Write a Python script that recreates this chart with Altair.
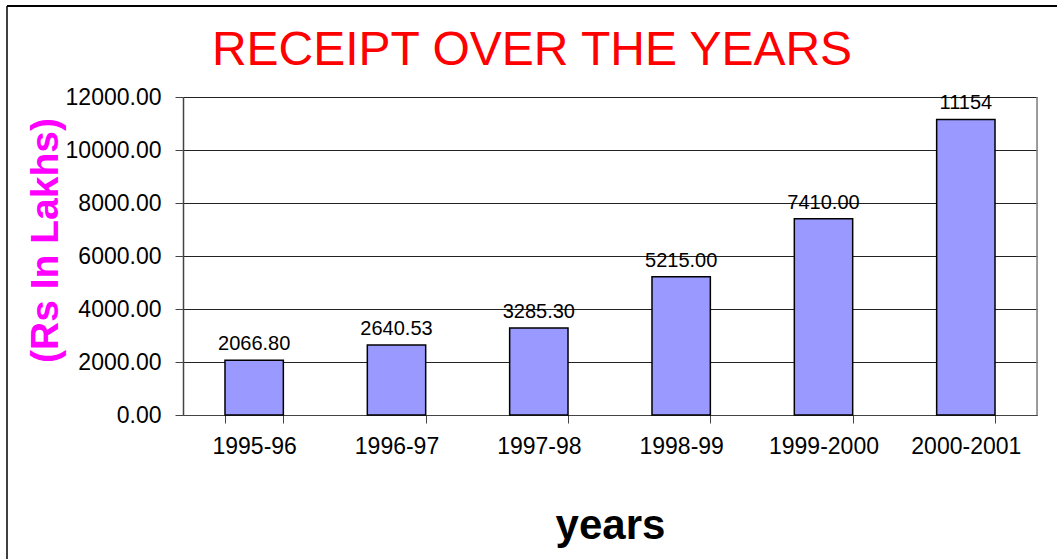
import altair as alt
import pandas as pd

years = ["1995-96", "1996-97", "1997-98", "1998-99", "1999-2000", "2000-2001"]
receipts = [2066.80, 2640.53, 3285.30, 5215.00, 7410.00, 11154]
labels = ["2066.80", "2640.53", "3285.30", "5215.00", "7410.00", "11154"]

df = pd.DataFrame({"year": years, "receipt": receipts, "label": labels})

font = "Liberation Sans"

x = alt.X(
    "year:N",
    sort=years,
    scale=alt.Scale(paddingInner=0.59, paddingOuter=0.295),
    axis=alt.Axis(
        title="years",
        titleFont=font,
        titleFontSize=42,
        titleFontWeight="bold",
        titleColor="black",
        titleY=110,
        titleBaseline="middle",
        labelFont=font,
        labelFontSize=23,
        labelColor="black",
        labelAngle=0,
        labelPadding=12,
        tickBand="extent",
        tickSize=8,
        tickColor="#444",
        domainColor="#444",
        grid=False,
    ),
)

y = alt.Y(
    "receipt:Q",
    scale=alt.Scale(domain=[0, 12000], nice=False),
    axis=alt.Axis(
        title="(Rs In Lakhs)",
        titleFont=font,
        titleFontSize=39,
        titleFontWeight="bold",
        titleColor="#FF00FF",
        titleAngle=-90,
        titleX=-138,
        titleY=143,
        titleAlign="center",
        titleBaseline="middle",
        values=[0, 2000, 4000, 6000, 8000, 10000, 12000],
        format=".2f",
        labelFont=font,
        labelFontSize=23,
        labelColor="black",
        labelPadding=14,
        tickSize=8,
        tickColor="#444",
        domainColor="#444",
        domainWidth=1.5,
        grid=True,
        gridColor="#222",
        gridWidth=1,
    ),
)

bars = alt.Chart(df).mark_bar(color="#9999FF", stroke="black", strokeWidth=1.5).encode(x=x, y=y)
text = alt.Chart(df).mark_text(
    font=font, fontSize=20, color="black", baseline="bottom", dy=-6
).encode(x=alt.X("year:N", sort=years), y="receipt:Q", text="label:N")

frame_df = pd.DataFrame({"k": [0]})
right_edge = alt.Chart(frame_df).mark_rule(color="#808080", strokeWidth=1.5).encode(
    x=alt.value(854), y=alt.value(0), y2=alt.value(318)
)
frame_top = alt.Chart(frame_df).mark_rule(color="black", strokeWidth=2).encode(
    x=alt.value(-176), x2=alt.value(880), y=alt.value(-91)
)
frame_left = alt.Chart(frame_df).mark_rule(color="black", strokeWidth=1.5).encode(
    x=alt.value(-176), y=alt.value(-91), y2=alt.value(480)
)

chart = (
    alt.layer(bars, text, right_edge, frame_top, frame_left)
    .properties(
        width=854,
        height=318,
        autosize=alt.AutoSizeParams(type="none"),
        padding={"left": 183, "top": 97, "right": 20, "bottom": 144},
        title=alt.TitleParams(
            "RECEIPT OVER THE YEARS",
            font=font,
            fontSize=48,
            fontWeight="normal",
            color="#FF0000",
            anchor="middle",
            dx=-78,
            dy=82,
            offset=12,
        ),
    )
    .configure_view(stroke="#808080", strokeWidth=1.5)
    .configure(background="white")
)

chart.save("out.html", embed_options={"renderer": "svg", "actions": False})
